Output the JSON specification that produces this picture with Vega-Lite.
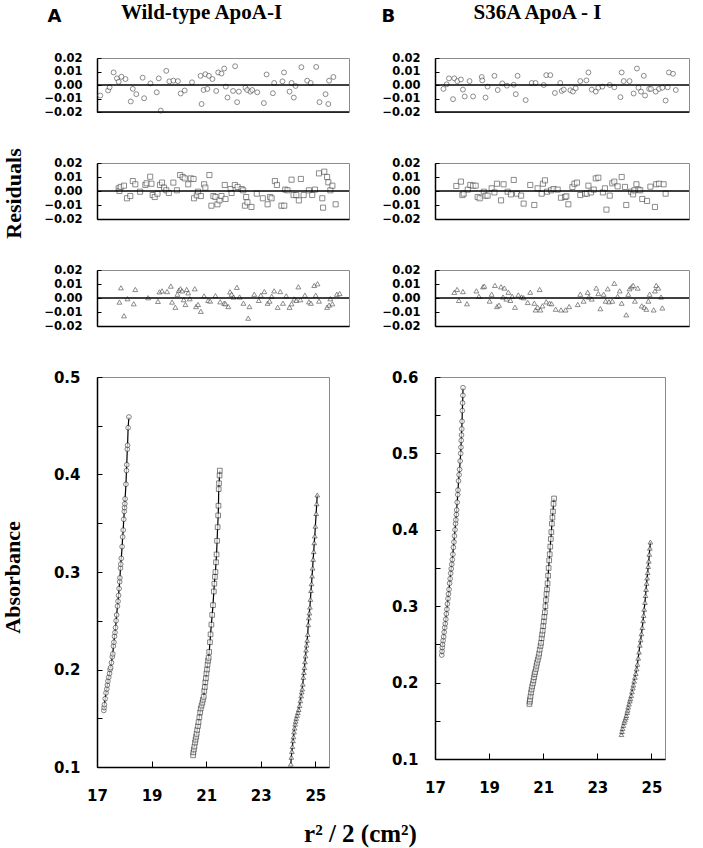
{
"$schema": "https://vega.github.io/schema/vega-lite/v6.json",
"background": "white",
"padding": {"left": 0, "top": 0, "right": 5, "bottom": 5},
"config": {
  "view": {"stroke": "#8c8c8c", "strokeWidth": 1},
  "axis": {"grid": false, "labelOverlap": false, "labelFlush": false, "labelBound": false, "domainColor": "black", "domainWidth": 1.5, "tickColor": "black", "tickWidth": 1, "labelColor": "black", "labelFont": "DejaVu Sans", "labelFontWeight": "bold", "titleFont": "Liberation Serif", "titleFontWeight": "bold", "titleColor": "black"}
},
"datasets": {
"res": [
{"p":"A1","x":1.3,"y":-0.0078},{"p":"A1","x":4.4,"y":-0.0041},{"p":"A1","x":5.0,"y":-0.0017},{"p":"A1","x":6.6,"y":0.0093},{"p":"A1","x":7.9,"y":0.0049},{"p":"A1","x":8.6,"y":0.0024},{"p":"A1","x":9.7,"y":0.0061},{"p":"A1","x":11.3,"y":0.0044},{"p":"A1","x":13.4,"y":-0.0122},{"p":"A1","x":14.2,"y":-0.0029},{"p":"A1","x":15.6,"y":-0.0068},{"p":"A1","x":18.1,"y":0.0054},{"p":"A1","x":18.7,"y":-0.0098},{"p":"A1","x":21.2,"y":0.0012},{"p":"A1","x":23.7,"y":-0.0054},{"p":"A1","x":24.5,"y":0.0049},{"p":"A1","x":25.3,"y":-0.019},{"p":"A1","x":27.5,"y":0.0105},{"p":"A1","x":28.7,"y":0.0027},{"p":"A1","x":30.3,"y":0.0032},{"p":"A1","x":32.1,"y":0.0029},{"p":"A1","x":33.2,"y":-0.0063},{"p":"A1","x":34.8,"y":-0.0041},{"p":"A1","x":37.7,"y":0.002},{"p":"A1","x":41.1,"y":0.0068},{"p":"A1","x":41.5,"y":-0.0141},{"p":"A1","x":42.3,"y":-0.0037},{"p":"A1","x":43.0,"y":0.008},{"p":"A1","x":43.8,"y":-0.0029},{"p":"A1","x":44.4,"y":0.0068},{"p":"A1","x":45.8,"y":0.0044},{"p":"A1","x":47.3,"y":-0.0044},{"p":"A1","x":48.1,"y":0.0093},{"p":"A1","x":49.4,"y":0.0085},{"p":"A1","x":50.5,"y":0.0122},{"p":"A1","x":51.1,"y":-0.0012},{"p":"A1","x":51.8,"y":-0.0093},{"p":"A1","x":54.0,"y":-0.0044},{"p":"A1","x":54.8,"y":0.0139},{"p":"A1","x":55.6,"y":-0.0127},{"p":"A1","x":56.3,"y":-0.0049},{"p":"A1","x":58.9,"y":-0.002},{"p":"A1","x":59.6,"y":-0.0037},{"p":"A1","x":60.9,"y":-0.0049},{"p":"A1","x":61.6,"y":-0.0037},{"p":"A1","x":63.6,"y":-0.0054},{"p":"A1","x":66.2,"y":-0.0134},{"p":"A1","x":67.3,"y":0.0078},{"p":"A1","x":69.8,"y":-0.0061},{"p":"A1","x":70.3,"y":0.0015},{"p":"A1","x":73.6,"y":0.0027},{"p":"A1","x":74.2,"y":0.0093},{"p":"A1","x":76.4,"y":-0.0049},{"p":"A1","x":77.2,"y":0.0015},{"p":"A1","x":78.1,"y":-0.0093},{"p":"A1","x":78.8,"y":-0.0007},{"p":"A1","x":81.1,"y":0.0132},{"p":"A1","x":83.4,"y":0.0032},{"p":"A1","x":84.8,"y":0.0015},{"p":"A1","x":87.0,"y":0.0134},{"p":"A1","x":88.3,"y":-0.0127},{"p":"A1","x":90.7,"y":-0.0068},{"p":"A1","x":91.8,"y":-0.0141},{"p":"A1","x":92.1,"y":0.0032},{"p":"A1","x":93.8,"y":0.0059},
{"p":"A2","x":8.6,"y":0.0019},{"p":"A2","x":8.9,"y":0.0},{"p":"A2","x":9.4,"y":0.0029},{"p":"A2","x":10.7,"y":0.0038},{"p":"A2","x":11.9,"y":-0.0052},{"p":"A2","x":13.2,"y":-0.0036},{"p":"A2","x":14.2,"y":0.0071},{"p":"A2","x":15.2,"y":0.0048},{"p":"A2","x":17.1,"y":-0.0005},{"p":"A2","x":19.2,"y":0.0043},{"p":"A2","x":19.7,"y":0.0055},{"p":"A2","x":21.1,"y":0.0102},{"p":"A2","x":21.6,"y":0.0052},{"p":"A2","x":22.1,"y":-0.0029},{"p":"A2","x":22.9,"y":-0.0043},{"p":"A2","x":24.0,"y":-0.0019},{"p":"A2","x":25.0,"y":0.0043},{"p":"A2","x":25.8,"y":0.006},{"p":"A2","x":26.6,"y":0.0024},{"p":"A2","x":27.5,"y":0.0005},{"p":"A2","x":28.5,"y":-0.0014},{"p":"A2","x":30.3,"y":0.006},{"p":"A2","x":31.7,"y":0.0005},{"p":"A2","x":33.0,"y":0.0114},{"p":"A2","x":34.0,"y":0.01},{"p":"A2","x":34.8,"y":0.009},{"p":"A2","x":36.2,"y":0.0048},{"p":"A2","x":37.2,"y":0.009},{"p":"A2","x":38.3,"y":0.0086},{"p":"A2","x":38.5,"y":-0.0052},{"p":"A2","x":39.6,"y":-0.0031},{"p":"A2","x":40.1,"y":-0.0005},{"p":"A2","x":41.2,"y":-0.0036},{"p":"A2","x":42.5,"y":0.0048},{"p":"A2","x":43.0,"y":0.0024},{"p":"A2","x":44.6,"y":0.0114},{"p":"A2","x":45.4,"y":-0.0105},{"p":"A2","x":46.2,"y":-0.0036},{"p":"A2","x":47.0,"y":-0.0043},{"p":"A2","x":47.8,"y":-0.0095},{"p":"A2","x":48.6,"y":-0.0067},{"p":"A2","x":49.4,"y":-0.0036},{"p":"A2","x":50.7,"y":0.0043},{"p":"A2","x":51.0,"y":-0.0057},{"p":"A2","x":53.0,"y":0.0014},{"p":"A2","x":53.4,"y":-0.0014},{"p":"A2","x":54.7,"y":0.0043},{"p":"A2","x":55.8,"y":0.0029},{"p":"A2","x":57.4,"y":0.0014},{"p":"A2","x":58.0,"y":0.0005},{"p":"A2","x":58.7,"y":-0.0105},{"p":"A2","x":59.2,"y":-0.0043},{"p":"A2","x":59.7,"y":-0.0081},{"p":"A2","x":61.3,"y":-0.0114},{"p":"A2","x":63.4,"y":-0.0019},{"p":"A2","x":65.8,"y":-0.0052},{"p":"A2","x":67.7,"y":-0.0095},{"p":"A2","x":68.7,"y":-0.0043},{"p":"A2","x":69.3,"y":-0.0052},{"p":"A2","x":70.6,"y":0.0071},{"p":"A2","x":71.4,"y":0.0043},{"p":"A2","x":73.2,"y":-0.0105},{"p":"A2","x":74.3,"y":-0.0105},{"p":"A2","x":74.7,"y":0.001},{"p":"A2","x":75.6,"y":0.0005},{"p":"A2","x":77.2,"y":0.0081},{"p":"A2","x":78.0,"y":-0.0029},{"p":"A2","x":79.1,"y":-0.0029},{"p":"A2","x":80.1,"y":-0.0067},{"p":"A2","x":80.9,"y":0.0086},{"p":"A2","x":82.0,"y":-0.0029},{"p":"A2","x":84.1,"y":0.0005},{"p":"A2","x":85.4,"y":-0.0029},{"p":"A2","x":86.5,"y":0.001},{"p":"A2","x":88.1,"y":0.0126},{"p":"A2","x":89.4,"y":-0.0052},{"p":"A2","x":89.7,"y":-0.0119},{"p":"A2","x":90.2,"y":0.0138},{"p":"A2","x":91.3,"y":0.01},{"p":"A2","x":91.8,"y":0.0062},{"p":"A2","x":92.6,"y":0.0005},{"p":"A2","x":93.4,"y":0.0038},{"p":"A2","x":94.7,"y":-0.0095},
{"p":"A3","x":8.9,"y":-0.0029},{"p":"A3","x":9.5,"y":0.0073},{"p":"A3","x":10.7,"y":-0.0127},{"p":"A3","x":12.1,"y":-0.0005},{"p":"A3","x":14.6,"y":-0.0041},{"p":"A3","x":15.2,"y":0.0061},{"p":"A3","x":20.3,"y":0.0002},{"p":"A3","x":24.2,"y":-0.0024},{"p":"A3","x":24.8,"y":0.0044},{"p":"A3","x":25.8,"y":0.0051},{"p":"A3","x":27.8,"y":0.0046},{"p":"A3","x":29.3,"y":0.0085},{"p":"A3","x":29.8,"y":-0.0029},{"p":"A3","x":31.1,"y":-0.0066},{"p":"A3","x":31.9,"y":0.0027},{"p":"A3","x":32.5,"y":0.0056},{"p":"A3","x":33.1,"y":0.0066},{"p":"A3","x":33.8,"y":0.0051},{"p":"A3","x":34.4,"y":-0.0012},{"p":"A3","x":35.1,"y":-0.0046},{"p":"A3","x":35.6,"y":0.0061},{"p":"A3","x":36.2,"y":0.0037},{"p":"A3","x":36.8,"y":-0.0005},{"p":"A3","x":38.8,"y":0.0066},{"p":"A3","x":39.3,"y":-0.0061},{"p":"A3","x":40.1,"y":-0.0046},{"p":"A3","x":41.2,"y":-0.0095},{"p":"A3","x":42.5,"y":0.0015},{"p":"A3","x":44.1,"y":-0.0017},{"p":"A3","x":44.9,"y":-0.0022},{"p":"A3","x":47.0,"y":0.0017},{"p":"A3","x":48.9,"y":-0.0027},{"p":"A3","x":50.5,"y":-0.0037},{"p":"A3","x":51.0,"y":-0.0041},{"p":"A3","x":52.1,"y":-0.0061},{"p":"A3","x":52.8,"y":0.0044},{"p":"A3","x":53.4,"y":0.0027},{"p":"A3","x":54.2,"y":0.0007},{"p":"A3","x":55.5,"y":0.0076},{"p":"A3","x":56.6,"y":0.0007},{"p":"A3","x":58.1,"y":-0.0037},{"p":"A3","x":60.0,"y":-0.0144},{"p":"A3","x":60.5,"y":-0.0061},{"p":"A3","x":62.4,"y":0.0027},{"p":"A3","x":64.2,"y":-0.0017},{"p":"A3","x":65.0,"y":0.002},{"p":"A3","x":66.4,"y":0.0046},{"p":"A3","x":67.7,"y":-0.0037},{"p":"A3","x":68.5,"y":-0.0022},{"p":"A3","x":69.3,"y":0.0012},{"p":"A3","x":70.3,"y":0.0051},{"p":"A3","x":71.7,"y":-0.0066},{"p":"A3","x":72.7,"y":0.0046},{"p":"A3","x":73.8,"y":-0.0037},{"p":"A3","x":75.1,"y":0.0015},{"p":"A3","x":76.4,"y":-0.0066},{"p":"A3","x":77.2,"y":-0.0041},{"p":"A3","x":78.3,"y":-0.0007},{"p":"A3","x":79.1,"y":-0.0017},{"p":"A3","x":79.9,"y":0.008},{"p":"A3","x":80.7,"y":-0.0012},{"p":"A3","x":82.5,"y":0.002},{"p":"A3","x":84.1,"y":-0.0027},{"p":"A3","x":84.9,"y":-0.0037},{"p":"A3","x":86.2,"y":0.009},{"p":"A3","x":86.8,"y":0.002},{"p":"A3","x":87.5,"y":0.0102},{"p":"A3","x":88.1,"y":-0.0022},{"p":"A3","x":91.3,"y":-0.0066},{"p":"A3","x":92.1,"y":-0.0051},{"p":"A3","x":92.6,"y":-0.0005},{"p":"A3","x":93.4,"y":-0.0041},{"p":"A3","x":95.2,"y":0.0027},{"p":"A3","x":96.3,"y":0.0032},
{"p":"B1","x":3.3,"y":-0.0029},{"p":"B1","x":4.6,"y":0.0005},{"p":"B1","x":5.5,"y":0.0049},{"p":"B1","x":7.1,"y":-0.0105},{"p":"B1","x":7.6,"y":0.0049},{"p":"B1","x":8.8,"y":0.0029},{"p":"B1","x":10.2,"y":0.0041},{"p":"B1","x":11.0,"y":-0.0034},{"p":"B1","x":11.7,"y":-0.0085},{"p":"B1","x":13.6,"y":0.0029},{"p":"B1","x":15.0,"y":-0.0085},{"p":"B1","x":18.4,"y":0.0059},{"p":"B1","x":18.6,"y":0.0034},{"p":"B1","x":19.9,"y":-0.0093},{"p":"B1","x":20.7,"y":-0.0012},{"p":"B1","x":23.4,"y":0.0068},{"p":"B1","x":24.7,"y":-0.0037},{"p":"B1","x":26.5,"y":0.0012},{"p":"B1","x":28.3,"y":-0.0005},{"p":"B1","x":31.0,"y":0.0002},{"p":"B1","x":31.8,"y":-0.0068},{"p":"B1","x":32.5,"y":0.0068},{"p":"B1","x":35.7,"y":-0.0112},{"p":"B1","x":38.1,"y":0.0015},{"p":"B1","x":39.6,"y":0.0015},{"p":"B1","x":42.8,"y":0.0},{"p":"B1","x":43.8,"y":0.0073},{"p":"B1","x":45.4,"y":0.0073},{"p":"B1","x":47.2,"y":-0.0059},{"p":"B1","x":49.3,"y":0.0015},{"p":"B1","x":49.9,"y":-0.0044},{"p":"B1","x":50.7,"y":-0.0034},{"p":"B1","x":53.3,"y":-0.0039},{"p":"B1","x":54.3,"y":-0.0049},{"p":"B1","x":55.4,"y":-0.0024},{"p":"B1","x":57.2,"y":0.0029},{"p":"B1","x":59.6,"y":0.0034},{"p":"B1","x":60.4,"y":0.0093},{"p":"B1","x":61.7,"y":-0.0034},{"p":"B1","x":63.3,"y":-0.0049},{"p":"B1","x":64.3,"y":-0.002},{"p":"B1","x":65.9,"y":-0.0012},{"p":"B1","x":68.8,"y":0.0},{"p":"B1","x":70.6,"y":-0.0017},{"p":"B1","x":73.0,"y":-0.009},{"p":"B1","x":73.5,"y":0.0093},{"p":"B1","x":74.3,"y":0.0029},{"p":"B1","x":76.6,"y":0.0029},{"p":"B1","x":78.2,"y":-0.0063},{"p":"B1","x":79.5,"y":0.0122},{"p":"B1","x":80.1,"y":-0.002},{"p":"B1","x":81.1,"y":-0.0049},{"p":"B1","x":82.2,"y":0.0068},{"p":"B1","x":82.7,"y":-0.0078},{"p":"B1","x":84.3,"y":-0.0029},{"p":"B1","x":85.0,"y":-0.0029},{"p":"B1","x":86.9,"y":-0.0049},{"p":"B1","x":88.2,"y":-0.0029},{"p":"B1","x":89.5,"y":-0.002},{"p":"B1","x":90.8,"y":-0.0115},{"p":"B1","x":91.6,"y":-0.0017},{"p":"B1","x":92.1,"y":0.0093},{"p":"B1","x":93.7,"y":0.0083},{"p":"B1","x":94.8,"y":-0.0037},
{"p":"B2","x":8.4,"y":0.0036},{"p":"B2","x":10.2,"y":0.0067},{"p":"B2","x":10.8,"y":-0.0029},{"p":"B2","x":11.3,"y":-0.0019},{"p":"B2","x":12.9,"y":0.001},{"p":"B2","x":13.9,"y":0.0043},{"p":"B2","x":15.0,"y":0.0038},{"p":"B2","x":16.0,"y":0.0038},{"p":"B2","x":16.8,"y":-0.0043},{"p":"B2","x":17.6,"y":-0.0052},{"p":"B2","x":19.2,"y":-0.0005},{"p":"B2","x":19.9,"y":-0.0033},{"p":"B2","x":20.7,"y":-0.0033},{"p":"B2","x":22.3,"y":0.0019},{"p":"B2","x":23.4,"y":-0.001},{"p":"B2","x":24.4,"y":0.0052},{"p":"B2","x":26.0,"y":-0.0067},{"p":"B2","x":27.0,"y":0.0048},{"p":"B2","x":28.6,"y":-0.0005},{"p":"B2","x":29.9,"y":-0.0024},{"p":"B2","x":31.0,"y":0.0079},{"p":"B2","x":32.3,"y":-0.0019},{"p":"B2","x":33.9,"y":-0.0033},{"p":"B2","x":34.9,"y":-0.009},{"p":"B2","x":37.5,"y":0.0043},{"p":"B2","x":39.1,"y":-0.01},{"p":"B2","x":40.4,"y":0.0019},{"p":"B2","x":42.0,"y":-0.0019},{"p":"B2","x":42.5,"y":0.0052},{"p":"B2","x":43.3,"y":0.0076},{"p":"B2","x":44.1,"y":-0.0005},{"p":"B2","x":45.7,"y":0.0005},{"p":"B2","x":46.7,"y":0.0014},{"p":"B2","x":48.3,"y":0.001},{"p":"B2","x":49.6,"y":-0.0048},{"p":"B2","x":51.2,"y":-0.0043},{"p":"B2","x":51.7,"y":-0.0038},{"p":"B2","x":52.5,"y":-0.0095},{"p":"B2","x":54.1,"y":0.0029},{"p":"B2","x":54.9,"y":0.0052},{"p":"B2","x":55.9,"y":0.006},{"p":"B2","x":57.2,"y":-0.0029},{"p":"B2","x":59.1,"y":-0.0019},{"p":"B2","x":59.8,"y":-0.0019},{"p":"B2","x":60.4,"y":0.0038},{"p":"B2","x":61.4,"y":-0.001},{"p":"B2","x":62.5,"y":0.001},{"p":"B2","x":63.3,"y":0.009},{"p":"B2","x":64.3,"y":0.0095},{"p":"B2","x":66.1,"y":-0.001},{"p":"B2","x":66.9,"y":0.0019},{"p":"B2","x":67.5,"y":-0.0133},{"p":"B2","x":68.8,"y":-0.0033},{"p":"B2","x":69.8,"y":0.0055},{"p":"B2","x":70.6,"y":0.0067},{"p":"B2","x":71.9,"y":0.0033},{"p":"B2","x":73.5,"y":0.01},{"p":"B2","x":74.8,"y":0.0029},{"p":"B2","x":75.3,"y":-0.01},{"p":"B2","x":77.2,"y":-0.0005},{"p":"B2","x":78.0,"y":-0.0024},{"p":"B2","x":78.5,"y":0.0005},{"p":"B2","x":79.3,"y":0.0048},{"p":"B2","x":80.1,"y":0.001},{"p":"B2","x":80.8,"y":0.0005},{"p":"B2","x":81.6,"y":-0.0057},{"p":"B2","x":83.5,"y":-0.0071},{"p":"B2","x":84.8,"y":0.0031},{"p":"B2","x":86.6,"y":-0.0114},{"p":"B2","x":87.1,"y":0.0048},{"p":"B2","x":88.2,"y":0.0052},{"p":"B2","x":90.0,"y":0.0048},{"p":"B2","x":90.8,"y":-0.0019},
{"p":"B3","x":7.6,"y":0.0041},{"p":"B3","x":8.7,"y":0.0061},{"p":"B3","x":9.4,"y":-0.0017},{"p":"B3","x":11.0,"y":0.0046},{"p":"B3","x":12.6,"y":-0.0041},{"p":"B3","x":16.3,"y":0.0051},{"p":"B3","x":17.3,"y":0.0012},{"p":"B3","x":18.9,"y":0.008},{"p":"B3","x":19.4,"y":0.0085},{"p":"B3","x":21.5,"y":-0.0022},{"p":"B3","x":22.3,"y":0.0027},{"p":"B3","x":23.6,"y":0.009},{"p":"B3","x":24.4,"y":-0.0061},{"p":"B3","x":25.2,"y":-0.0051},{"p":"B3","x":26.0,"y":0.008},{"p":"B3","x":26.8,"y":0.0007},{"p":"B3","x":27.3,"y":0.0071},{"p":"B3","x":28.1,"y":-0.0007},{"p":"B3","x":28.9,"y":0.0041},{"p":"B3","x":29.7,"y":-0.0017},{"p":"B3","x":30.4,"y":0.0012},{"p":"B3","x":31.5,"y":-0.0066},{"p":"B3","x":32.8,"y":0.0022},{"p":"B3","x":34.1,"y":0.0007},{"p":"B3","x":34.9,"y":0.0002},{"p":"B3","x":36.5,"y":-0.0032},{"p":"B3","x":37.5,"y":0.0041},{"p":"B3","x":39.1,"y":-0.0037},{"p":"B3","x":39.6,"y":-0.0085},{"p":"B3","x":40.4,"y":-0.0066},{"p":"B3","x":41.2,"y":0.0061},{"p":"B3","x":41.5,"y":-0.0085},{"p":"B3","x":42.3,"y":-0.0056},{"p":"B3","x":43.8,"y":-0.0027},{"p":"B3","x":45.1,"y":-0.0037},{"p":"B3","x":45.9,"y":-0.0041},{"p":"B3","x":47.5,"y":-0.008},{"p":"B3","x":49.6,"y":-0.0085},{"p":"B3","x":51.4,"y":-0.0085},{"p":"B3","x":52.8,"y":-0.0061},{"p":"B3","x":56.2,"y":-0.0046},{"p":"B3","x":57.2,"y":0.0027},{"p":"B3","x":58.5,"y":-0.0022},{"p":"B3","x":60.1,"y":0.0041},{"p":"B3","x":60.6,"y":0.0007},{"p":"B3","x":61.7,"y":-0.0007},{"p":"B3","x":63.5,"y":0.0071},{"p":"B3","x":64.3,"y":0.0032},{"p":"B3","x":65.1,"y":-0.0076},{"p":"B3","x":66.4,"y":0.0027},{"p":"B3","x":67.2,"y":-0.0022},{"p":"B3","x":68.0,"y":0.0066},{"p":"B3","x":68.5,"y":-0.0027},{"p":"B3","x":69.8,"y":-0.0022},{"p":"B3","x":70.6,"y":0.0105},{"p":"B3","x":71.9,"y":0.0012},{"p":"B3","x":72.7,"y":0.0051},{"p":"B3","x":73.5,"y":-0.0037},{"p":"B3","x":75.3,"y":-0.012},{"p":"B3","x":76.1,"y":0.0027},{"p":"B3","x":76.6,"y":0.0066},{"p":"B3","x":77.4,"y":0.008},{"p":"B3","x":78.0,"y":0.009},{"p":"B3","x":78.7,"y":-0.0022},{"p":"B3","x":79.8,"y":0.0071},{"p":"B3","x":81.4,"y":-0.0056},{"p":"B3","x":82.4,"y":-0.0066},{"p":"B3","x":83.2,"y":-0.008},{"p":"B3","x":84.0,"y":-0.0022},{"p":"B3","x":84.5,"y":0.0027},{"p":"B3","x":86.1,"y":-0.0085},{"p":"B3","x":86.6,"y":0.0051},{"p":"B3","x":87.1,"y":0.009},{"p":"B3","x":87.9,"y":0.0071},{"p":"B3","x":89.0,"y":0.0007},{"p":"B3","x":89.5,"y":-0.0071}
],
"abs": [
{"p":"A","s":"c","x":17.25,"a":0.158},{"p":"A","s":"c","x":17.26,"a":0.161},{"p":"A","s":"c","x":17.27,"a":0.164},{"p":"A","s":"c","x":17.30,"a":0.170},{"p":"A","s":"c","x":17.33,"a":0.176},{"p":"A","s":"c","x":17.36,"a":0.180},{"p":"A","s":"c","x":17.38,"a":0.184},{"p":"A","s":"c","x":17.40,"a":0.188},{"p":"A","s":"c","x":17.43,"a":0.192},{"p":"A","s":"c","x":17.46,"a":0.196},{"p":"A","s":"c","x":17.48,"a":0.200},{"p":"A","s":"c","x":17.50,"a":0.202},{"p":"A","s":"c","x":17.53,"a":0.207},{"p":"A","s":"c","x":17.56,"a":0.213},{"p":"A","s":"c","x":17.58,"a":0.216},{"p":"A","s":"c","x":17.60,"a":0.224},{"p":"A","s":"c","x":17.62,"a":0.228},{"p":"A","s":"c","x":17.64,"a":0.234},{"p":"A","s":"c","x":17.66,"a":0.238},{"p":"A","s":"c","x":17.68,"a":0.243},{"p":"A","s":"c","x":17.70,"a":0.250},{"p":"A","s":"c","x":17.72,"a":0.256},{"p":"A","s":"c","x":17.75,"a":0.265},{"p":"A","s":"c","x":17.77,"a":0.270},{"p":"A","s":"c","x":17.79,"a":0.276},{"p":"A","s":"c","x":17.81,"a":0.283},{"p":"A","s":"c","x":17.83,"a":0.290},{"p":"A","s":"c","x":17.84,"a":0.294},{"p":"A","s":"c","x":17.86,"a":0.304},{"p":"A","s":"c","x":17.87,"a":0.308},{"p":"A","s":"c","x":17.89,"a":0.314},{"p":"A","s":"c","x":17.92,"a":0.326},{"p":"A","s":"c","x":17.94,"a":0.336},{"p":"A","s":"c","x":17.96,"a":0.343},{"p":"A","s":"c","x":17.98,"a":0.354},{"p":"A","s":"c","x":18.00,"a":0.362},{"p":"A","s":"c","x":18.01,"a":0.366},{"p":"A","s":"c","x":18.02,"a":0.370},{"p":"A","s":"c","x":18.03,"a":0.375},{"p":"A","s":"c","x":18.06,"a":0.390},{"p":"A","s":"c","x":18.08,"a":0.404},{"p":"A","s":"c","x":18.09,"a":0.410},{"p":"A","s":"c","x":18.11,"a":0.426},{"p":"A","s":"c","x":18.12,"a":0.430},{"p":"A","s":"c","x":18.14,"a":0.448},{"p":"A","s":"c","x":18.17,"a":0.459},
{"p":"A","s":"s","x":20.52,"a":0.112},{"p":"A","s":"s","x":20.53,"a":0.115},{"p":"A","s":"s","x":20.55,"a":0.118},{"p":"A","s":"s","x":20.57,"a":0.121},{"p":"A","s":"s","x":20.59,"a":0.125},{"p":"A","s":"s","x":20.61,"a":0.128},{"p":"A","s":"s","x":20.63,"a":0.131},{"p":"A","s":"s","x":20.65,"a":0.134},{"p":"A","s":"s","x":20.67,"a":0.138},{"p":"A","s":"s","x":20.70,"a":0.142},{"p":"A","s":"s","x":20.72,"a":0.146},{"p":"A","s":"s","x":20.75,"a":0.151},{"p":"A","s":"s","x":20.78,"a":0.156},{"p":"A","s":"s","x":20.80,"a":0.160},{"p":"A","s":"s","x":20.83,"a":0.163},{"p":"A","s":"s","x":20.86,"a":0.166},{"p":"A","s":"s","x":20.88,"a":0.169},{"p":"A","s":"s","x":20.91,"a":0.172},{"p":"A","s":"s","x":20.93,"a":0.178},{"p":"A","s":"s","x":20.95,"a":0.182},{"p":"A","s":"s","x":20.97,"a":0.187},{"p":"A","s":"s","x":20.99,"a":0.191},{"p":"A","s":"s","x":21.01,"a":0.196},{"p":"A","s":"s","x":21.03,"a":0.200},{"p":"A","s":"s","x":21.05,"a":0.205},{"p":"A","s":"s","x":21.07,"a":0.209},{"p":"A","s":"s","x":21.09,"a":0.212},{"p":"A","s":"s","x":21.11,"a":0.218},{"p":"A","s":"s","x":21.14,"a":0.228},{"p":"A","s":"s","x":21.16,"a":0.236},{"p":"A","s":"s","x":21.19,"a":0.246},{"p":"A","s":"s","x":21.22,"a":0.256},{"p":"A","s":"s","x":21.25,"a":0.266},{"p":"A","s":"s","x":21.28,"a":0.280},{"p":"A","s":"s","x":21.30,"a":0.288},{"p":"A","s":"s","x":21.32,"a":0.295},{"p":"A","s":"s","x":21.34,"a":0.300},{"p":"A","s":"s","x":21.36,"a":0.310},{"p":"A","s":"s","x":21.38,"a":0.318},{"p":"A","s":"s","x":21.40,"a":0.332},{"p":"A","s":"s","x":21.42,"a":0.346},{"p":"A","s":"s","x":21.44,"a":0.358},{"p":"A","s":"s","x":21.45,"a":0.368},{"p":"A","s":"s","x":21.46,"a":0.385},{"p":"A","s":"s","x":21.47,"a":0.391},{"p":"A","s":"s","x":21.49,"a":0.399},{"p":"A","s":"s","x":21.50,"a":0.404},
{"p":"A","s":"t","x":24.10,"a":0.103},{"p":"A","s":"t","x":24.12,"a":0.110},{"p":"A","s":"t","x":24.14,"a":0.116},{"p":"A","s":"t","x":24.16,"a":0.121},{"p":"A","s":"t","x":24.18,"a":0.127},{"p":"A","s":"t","x":24.20,"a":0.131},{"p":"A","s":"t","x":24.22,"a":0.136},{"p":"A","s":"t","x":24.24,"a":0.140},{"p":"A","s":"t","x":24.26,"a":0.144},{"p":"A","s":"t","x":24.28,"a":0.147},{"p":"A","s":"t","x":24.30,"a":0.150},{"p":"A","s":"t","x":24.33,"a":0.153},{"p":"A","s":"t","x":24.36,"a":0.156},{"p":"A","s":"t","x":24.39,"a":0.159},{"p":"A","s":"t","x":24.42,"a":0.163},{"p":"A","s":"t","x":24.45,"a":0.168},{"p":"A","s":"t","x":24.48,"a":0.173},{"p":"A","s":"t","x":24.50,"a":0.177},{"p":"A","s":"t","x":24.52,"a":0.180},{"p":"A","s":"t","x":24.54,"a":0.185},{"p":"A","s":"t","x":24.56,"a":0.192},{"p":"A","s":"t","x":24.58,"a":0.197},{"p":"A","s":"t","x":24.60,"a":0.202},{"p":"A","s":"t","x":24.62,"a":0.208},{"p":"A","s":"t","x":24.64,"a":0.214},{"p":"A","s":"t","x":24.66,"a":0.220},{"p":"A","s":"t","x":24.68,"a":0.225},{"p":"A","s":"t","x":24.70,"a":0.230},{"p":"A","s":"t","x":24.72,"a":0.236},{"p":"A","s":"t","x":24.74,"a":0.246},{"p":"A","s":"t","x":24.76,"a":0.253},{"p":"A","s":"t","x":24.78,"a":0.258},{"p":"A","s":"t","x":24.80,"a":0.264},{"p":"A","s":"t","x":24.82,"a":0.272},{"p":"A","s":"t","x":24.84,"a":0.281},{"p":"A","s":"t","x":24.86,"a":0.288},{"p":"A","s":"t","x":24.88,"a":0.296},{"p":"A","s":"t","x":24.90,"a":0.304},{"p":"A","s":"t","x":24.92,"a":0.313},{"p":"A","s":"t","x":24.94,"a":0.321},{"p":"A","s":"t","x":24.96,"a":0.330},{"p":"A","s":"t","x":24.98,"a":0.337},{"p":"A","s":"t","x":25.00,"a":0.347},{"p":"A","s":"t","x":25.03,"a":0.360},{"p":"A","s":"t","x":25.05,"a":0.370},{"p":"A","s":"t","x":25.07,"a":0.379},
{"p":"B","s":"c","x":17.25,"a":0.236},{"p":"B","s":"c","x":17.26,"a":0.241},{"p":"B","s":"c","x":17.27,"a":0.246},{"p":"B","s":"c","x":17.28,"a":0.250},{"p":"B","s":"c","x":17.30,"a":0.255},{"p":"B","s":"c","x":17.32,"a":0.260},{"p":"B","s":"c","x":17.34,"a":0.266},{"p":"B","s":"c","x":17.36,"a":0.272},{"p":"B","s":"c","x":17.38,"a":0.277},{"p":"B","s":"c","x":17.40,"a":0.283},{"p":"B","s":"c","x":17.42,"a":0.290},{"p":"B","s":"c","x":17.44,"a":0.296},{"p":"B","s":"c","x":17.46,"a":0.303},{"p":"B","s":"c","x":17.48,"a":0.310},{"p":"B","s":"c","x":17.50,"a":0.316},{"p":"B","s":"c","x":17.52,"a":0.322},{"p":"B","s":"c","x":17.54,"a":0.330},{"p":"B","s":"c","x":17.56,"a":0.336},{"p":"B","s":"c","x":17.58,"a":0.343},{"p":"B","s":"c","x":17.60,"a":0.349},{"p":"B","s":"c","x":17.62,"a":0.355},{"p":"B","s":"c","x":17.64,"a":0.361},{"p":"B","s":"c","x":17.66,"a":0.368},{"p":"B","s":"c","x":17.68,"a":0.377},{"p":"B","s":"c","x":17.70,"a":0.384},{"p":"B","s":"c","x":17.72,"a":0.392},{"p":"B","s":"c","x":17.74,"a":0.400},{"p":"B","s":"c","x":17.76,"a":0.408},{"p":"B","s":"c","x":17.77,"a":0.413},{"p":"B","s":"c","x":17.79,"a":0.420},{"p":"B","s":"c","x":17.80,"a":0.426},{"p":"B","s":"c","x":17.82,"a":0.436},{"p":"B","s":"c","x":17.84,"a":0.446},{"p":"B","s":"c","x":17.85,"a":0.452},{"p":"B","s":"c","x":17.87,"a":0.464},{"p":"B","s":"c","x":17.89,"a":0.472},{"p":"B","s":"c","x":17.91,"a":0.479},{"p":"B","s":"c","x":17.93,"a":0.490},{"p":"B","s":"c","x":17.95,"a":0.500},{"p":"B","s":"c","x":17.96,"a":0.508},{"p":"B","s":"c","x":17.97,"a":0.517},{"p":"B","s":"c","x":17.98,"a":0.524},{"p":"B","s":"c","x":17.99,"a":0.532},{"p":"B","s":"c","x":18.00,"a":0.542},{"p":"B","s":"c","x":18.01,"a":0.556},{"p":"B","s":"c","x":18.02,"a":0.566},{"p":"B","s":"c","x":18.03,"a":0.576},{"p":"B","s":"c","x":18.035,"a":0.586},
{"p":"B","s":"s","x":20.49,"a":0.172},{"p":"B","s":"s","x":20.50,"a":0.175},{"p":"B","s":"s","x":20.51,"a":0.178},{"p":"B","s":"s","x":20.53,"a":0.182},{"p":"B","s":"s","x":20.55,"a":0.187},{"p":"B","s":"s","x":20.57,"a":0.191},{"p":"B","s":"s","x":20.59,"a":0.195},{"p":"B","s":"s","x":20.62,"a":0.199},{"p":"B","s":"s","x":20.64,"a":0.203},{"p":"B","s":"s","x":20.66,"a":0.207},{"p":"B","s":"s","x":20.68,"a":0.211},{"p":"B","s":"s","x":20.70,"a":0.214},{"p":"B","s":"s","x":20.73,"a":0.218},{"p":"B","s":"s","x":20.75,"a":0.222},{"p":"B","s":"s","x":20.77,"a":0.226},{"p":"B","s":"s","x":20.80,"a":0.230},{"p":"B","s":"s","x":20.83,"a":0.234},{"p":"B","s":"s","x":20.85,"a":0.238},{"p":"B","s":"s","x":20.87,"a":0.243},{"p":"B","s":"s","x":20.90,"a":0.248},{"p":"B","s":"s","x":20.92,"a":0.252},{"p":"B","s":"s","x":20.94,"a":0.258},{"p":"B","s":"s","x":20.96,"a":0.263},{"p":"B","s":"s","x":20.98,"a":0.268},{"p":"B","s":"s","x":21.00,"a":0.274},{"p":"B","s":"s","x":21.02,"a":0.280},{"p":"B","s":"s","x":21.04,"a":0.286},{"p":"B","s":"s","x":21.06,"a":0.292},{"p":"B","s":"s","x":21.08,"a":0.300},{"p":"B","s":"s","x":21.10,"a":0.308},{"p":"B","s":"s","x":21.12,"a":0.316},{"p":"B","s":"s","x":21.14,"a":0.322},{"p":"B","s":"s","x":21.16,"a":0.330},{"p":"B","s":"s","x":21.18,"a":0.340},{"p":"B","s":"s","x":21.20,"a":0.350},{"p":"B","s":"s","x":21.22,"a":0.360},{"p":"B","s":"s","x":21.24,"a":0.368},{"p":"B","s":"s","x":21.26,"a":0.378},{"p":"B","s":"s","x":21.28,"a":0.388},{"p":"B","s":"s","x":21.30,"a":0.397},{"p":"B","s":"s","x":21.32,"a":0.408},{"p":"B","s":"s","x":21.34,"a":0.416},{"p":"B","s":"s","x":21.36,"a":0.424},{"p":"B","s":"s","x":21.38,"a":0.434},{"p":"B","s":"s","x":21.40,"a":0.441},
{"p":"B","s":"t","x":23.89,"a":0.132},{"p":"B","s":"t","x":23.91,"a":0.136},{"p":"B","s":"t","x":23.93,"a":0.140},{"p":"B","s":"t","x":23.96,"a":0.144},{"p":"B","s":"t","x":23.99,"a":0.148},{"p":"B","s":"t","x":24.02,"a":0.151},{"p":"B","s":"t","x":24.05,"a":0.154},{"p":"B","s":"t","x":24.07,"a":0.157},{"p":"B","s":"t","x":24.10,"a":0.161},{"p":"B","s":"t","x":24.12,"a":0.164},{"p":"B","s":"t","x":24.14,"a":0.168},{"p":"B","s":"t","x":24.17,"a":0.172},{"p":"B","s":"t","x":24.20,"a":0.176},{"p":"B","s":"t","x":24.22,"a":0.179},{"p":"B","s":"t","x":24.25,"a":0.183},{"p":"B","s":"t","x":24.28,"a":0.188},{"p":"B","s":"t","x":24.31,"a":0.193},{"p":"B","s":"t","x":24.33,"a":0.197},{"p":"B","s":"t","x":24.36,"a":0.202},{"p":"B","s":"t","x":24.39,"a":0.207},{"p":"B","s":"t","x":24.42,"a":0.212},{"p":"B","s":"t","x":24.45,"a":0.218},{"p":"B","s":"t","x":24.48,"a":0.224},{"p":"B","s":"t","x":24.51,"a":0.232},{"p":"B","s":"t","x":24.54,"a":0.240},{"p":"B","s":"t","x":24.57,"a":0.249},{"p":"B","s":"t","x":24.60,"a":0.256},{"p":"B","s":"t","x":24.63,"a":0.264},{"p":"B","s":"t","x":24.66,"a":0.272},{"p":"B","s":"t","x":24.69,"a":0.281},{"p":"B","s":"t","x":24.71,"a":0.288},{"p":"B","s":"t","x":24.73,"a":0.296},{"p":"B","s":"t","x":24.76,"a":0.305},{"p":"B","s":"t","x":24.78,"a":0.314},{"p":"B","s":"t","x":24.80,"a":0.322},{"p":"B","s":"t","x":24.82,"a":0.330},{"p":"B","s":"t","x":24.84,"a":0.337},{"p":"B","s":"t","x":24.86,"a":0.344},{"p":"B","s":"t","x":24.88,"a":0.352},{"p":"B","s":"t","x":24.90,"a":0.359},{"p":"B","s":"t","x":24.92,"a":0.368},{"p":"B","s":"t","x":24.94,"a":0.376},{"p":"B","s":"t","x":24.96,"a":0.384}
]
},
"columns": 2,
"spacing": {"row": 51, "column": 86},
"bounds": "flush",
"align": "each",
"concat": [
 {"width": 252, "height": 54,
  "layer": [
   {"data": {"name": "res"}, "transform": [{"filter": "datum.p === 'A1'"}],
    "mark": {"type": "point", "shape": "circle", "size": 24, "filled": true, "fill": "white", "stroke": "#333", "strokeWidth": 0.8},
    "encoding": {
     "x": {"field": "x", "type": "quantitative", "scale": {"domain": [0, 100], "nice": false, "zero": false}, "axis": {"orient": "top", "labels": false, "ticks": false, "domain": false, "title": "Wild-type ApoA-I", "titleFontSize": 21, "titleX": 104, "titleY": -40, "titleBaseline": "alphabetic", "titleAlign": "center"}},
     "y": {"field": "y", "type": "quantitative", "scale": {"domain": [-0.02, 0.02], "nice": false}, "axis": {"values": [-0.02, -0.01, 0, 0.01, 0.02], "tickCount": 10, "format": ".2f", "labelFontSize": 11.5, "tickSize": -4, "labelPadding": 19, "title": "A", "titleFont": "DejaVu Sans", "titleFontSize": 18, "titleAngle": 0, "titleX": -50, "titleY": -37, "titleAlign": "left", "titleBaseline": "alphabetic"}}}},
   {"data": {"values": [{"r": -0.02}, {"r": 0}]}, "mark": {"type": "rule", "color": "black", "strokeWidth": 1.5}, "encoding": {"y": {"field": "r", "type": "quantitative"}}}
  ]},
 {"width": 254, "height": 54,
  "layer": [
   {"data": {"name": "res"}, "transform": [{"filter": "datum.p === 'B1'"}],
    "mark": {"type": "point", "shape": "circle", "size": 24, "filled": true, "fill": "white", "stroke": "#333", "strokeWidth": 0.8},
    "encoding": {
     "x": {"field": "x", "type": "quantitative", "scale": {"domain": [0, 100], "nice": false, "zero": false}, "axis": {"orient": "top", "labels": false, "ticks": false, "domain": false, "title": "S36A ApoA - I", "titleFontSize": 21, "titleX": 102, "titleY": -40, "titleBaseline": "alphabetic", "titleAlign": "center"}},
     "y": {"field": "y", "type": "quantitative", "scale": {"domain": [-0.02, 0.02], "nice": false}, "axis": {"values": [-0.02, -0.01, 0, 0.01, 0.02], "tickCount": 10, "format": ".2f", "labelFontSize": 11.5, "tickSize": -4, "labelPadding": 19, "title": "B", "titleFont": "DejaVu Sans", "titleFontSize": 18, "titleAngle": 0, "titleX": -54, "titleY": -37, "titleAlign": "left", "titleBaseline": "alphabetic"}}}},
   {"data": {"values": [{"r": -0.02}, {"r": 0}]}, "mark": {"type": "rule", "color": "black", "strokeWidth": 1.5}, "encoding": {"y": {"field": "r", "type": "quantitative"}}}
  ]},
 {"width": 252, "height": 56,
  "layer": [
   {"data": {"name": "res"}, "transform": [{"filter": "datum.p === 'A2'"}],
    "mark": {"type": "point", "shape": "square", "size": 26, "filled": true, "fill": "white", "stroke": "#333", "strokeWidth": 0.8},
    "encoding": {
     "x": {"field": "x", "type": "quantitative", "scale": {"domain": [0, 100], "nice": false, "zero": false}, "axis": {"labels": false, "ticks": false, "title": null}},
     "y": {"field": "y", "type": "quantitative", "scale": {"domain": [-0.02, 0.02], "nice": false}, "axis": {"values": [-0.02, -0.01, 0, 0.01, 0.02], "tickCount": 10, "format": ".2f", "labelFontSize": 11.5, "tickSize": -4, "labelPadding": 19, "title": "Residuals", "titleFontSize": 22, "titleAngle": 270, "titleX": -77, "titleY": 30, "titleBaseline": "alphabetic", "titleAlign": "center"}}}},
   {"data": {"values": [{"r": 0}]}, "mark": {"type": "rule", "color": "black", "strokeWidth": 1.5}, "encoding": {"y": {"field": "r", "type": "quantitative"}}}
  ]},
 {"width": 254, "height": 56,
  "layer": [
   {"data": {"name": "res"}, "transform": [{"filter": "datum.p === 'B2'"}],
    "mark": {"type": "point", "shape": "square", "size": 26, "filled": true, "fill": "white", "stroke": "#333", "strokeWidth": 0.8},
    "encoding": {
     "x": {"field": "x", "type": "quantitative", "scale": {"domain": [0, 100], "nice": false, "zero": false}, "axis": {"labels": false, "ticks": false, "title": null}},
     "y": {"field": "y", "type": "quantitative", "scale": {"domain": [-0.02, 0.02], "nice": false}, "axis": {"values": [-0.02, -0.01, 0, 0.01, 0.02], "tickCount": 10, "format": ".2f", "title": null, "labelFontSize": 11.5, "tickSize": -4, "labelPadding": 19}}}},
   {"data": {"values": [{"r": 0}]}, "mark": {"type": "rule", "color": "black", "strokeWidth": 1.5}, "encoding": {"y": {"field": "r", "type": "quantitative"}}}
  ]},
 {"width": 252, "height": 56,
  "layer": [
   {"data": {"name": "res"}, "transform": [{"filter": "datum.p === 'A3'"}],
    "mark": {"type": "point", "shape": "triangle-up", "size": 24, "filled": true, "fill": "white", "stroke": "#333", "strokeWidth": 0.8},
    "encoding": {
     "x": {"field": "x", "type": "quantitative", "scale": {"domain": [0, 100], "nice": false, "zero": false}, "axis": {"labels": false, "ticks": false, "title": null}},
     "y": {"field": "y", "type": "quantitative", "scale": {"domain": [-0.02, 0.02], "nice": false}, "axis": {"values": [-0.02, -0.01, 0, 0.01, 0.02], "tickCount": 10, "format": ".2f", "title": null, "labelFontSize": 11.5, "tickSize": -4, "labelPadding": 19}}}},
   {"data": {"values": [{"r": 0}]}, "mark": {"type": "rule", "color": "black", "strokeWidth": 1.5}, "encoding": {"y": {"field": "r", "type": "quantitative"}}}
  ]},
 {"width": 254, "height": 56,
  "layer": [
   {"data": {"name": "res"}, "transform": [{"filter": "datum.p === 'B3'"}],
    "mark": {"type": "point", "shape": "triangle-up", "size": 24, "filled": true, "fill": "white", "stroke": "#333", "strokeWidth": 0.8},
    "encoding": {
     "x": {"field": "x", "type": "quantitative", "scale": {"domain": [0, 100], "nice": false, "zero": false}, "axis": {"labels": false, "ticks": false, "title": null}},
     "y": {"field": "y", "type": "quantitative", "scale": {"domain": [-0.02, 0.02], "nice": false}, "axis": {"values": [-0.02, -0.01, 0, 0.01, 0.02], "tickCount": 10, "format": ".2f", "title": null, "labelFontSize": 11.5, "tickSize": -4, "labelPadding": 19}}}},
   {"data": {"values": [{"r": 0}]}, "mark": {"type": "rule", "color": "black", "strokeWidth": 1.5}, "encoding": {"y": {"field": "r", "type": "quantitative"}}}
  ]},
 {"width": 232, "height": 390,
  "data": {"name": "abs"}, "transform": [{"filter": "datum.p === 'A'"}],
  "encoding": {
   "x": {"field": "x", "type": "quantitative", "scale": {"domain": [17, 25.5], "nice": false, "zero": false}, "axis": {"values": [17, 19, 21, 23, 25], "tickCount": 10, "tickSize": -6, "labelPadding": 27, "labelFontSize": 15, "title": "r² / 2 (cm²)", "titleFontSize": 25, "titleX": 263, "titleY": 74, "titleBaseline": "alphabetic", "titleAlign": "center"}},
   "y": {"field": "a", "type": "quantitative", "scale": {"domain": [0.1, 0.5], "nice": false, "zero": false}, "axis": {"values": [0.1, 0.15, 0.2, 0.25, 0.3, 0.35, 0.4, 0.45, 0.5], "tickCount": 20, "labelExpr": "abs(datum.value*10 - round(datum.value*10)) < 0.001 ? format(datum.value, '.1f') : ''", "tickSize": -5, "labelPadding": 22, "labelFontSize": 15, "title": "Absorbance", "titleFontSize": 22, "titleAngle": 270, "titleX": -78, "titleY": 200, "titleBaseline": "alphabetic", "titleAlign": "center"}}
  },
  "layer": [
   {"mark": {"type": "line", "color": "black", "strokeWidth": 1.2}, "encoding": {"detail": {"field": "s"}, "order": {"field": "a", "type": "quantitative"}}},
   {"mark": {"type": "point", "size": 22, "filled": true, "fill": "white", "stroke": "#222", "strokeWidth": 0.8}, "encoding": {"shape": {"field": "s", "type": "nominal", "scale": {"domain": ["c", "s", "t"], "range": ["circle", "square", "triangle-up"]}, "legend": null}}}
  ]},
 {"width": 230, "height": 382,
  "data": {"name": "abs"}, "transform": [{"filter": "datum.p === 'B'"}],
  "encoding": {
   "x": {"field": "x", "type": "quantitative", "scale": {"domain": [17, 25.5], "nice": false, "zero": false}, "axis": {"values": [17, 19, 21, 23, 25], "tickCount": 10, "tickSize": -6, "labelPadding": 27, "labelFontSize": 15, "title": null}},
   "y": {"field": "a", "type": "quantitative", "scale": {"domain": [0.1, 0.6], "nice": false, "zero": false}, "axis": {"values": [0.1, 0.15, 0.2, 0.25, 0.3, 0.35, 0.4, 0.45, 0.5, 0.55, 0.6], "tickCount": 20, "labelExpr": "abs(datum.value*10 - round(datum.value*10)) < 0.001 ? format(datum.value, '.1f') : ''", "tickSize": -5, "labelPadding": 22, "labelFontSize": 15, "title": null}}
  },
  "layer": [
   {"mark": {"type": "line", "color": "black", "strokeWidth": 1.2}, "encoding": {"detail": {"field": "s"}, "order": {"field": "a", "type": "quantitative"}}},
   {"mark": {"type": "point", "size": 22, "filled": true, "fill": "white", "stroke": "#222", "strokeWidth": 0.8}, "encoding": {"shape": {"field": "s", "type": "nominal", "scale": {"domain": ["c", "s", "t"], "range": ["circle", "square", "triangle-up"]}, "legend": null}}}
  ]}
]
}
